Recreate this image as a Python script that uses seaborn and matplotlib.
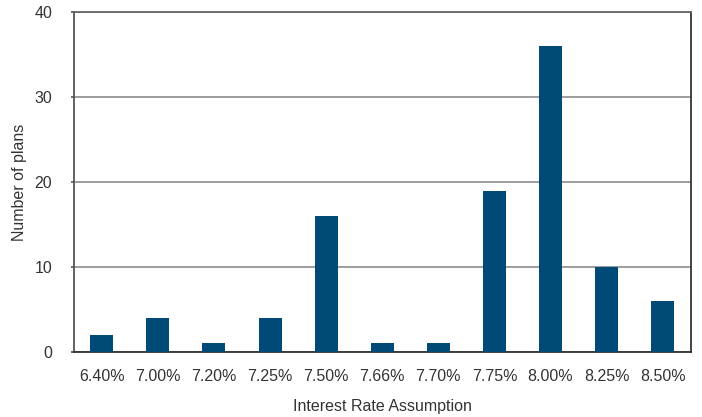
import matplotlib
matplotlib.use("Agg")
import matplotlib.pyplot as plt
import seaborn as sns
import pandas as pd

rates = ["6.40%", "7.00%", "7.20%", "7.25%", "7.50%", "7.66%", "7.70%",
         "7.75%", "8.00%", "8.25%", "8.50%"]
plans = [2, 4, 1, 4, 16, 1, 1, 19, 36, 10, 6]

df = pd.DataFrame({"rate": rates, "plans": plans})

sns.set_theme(style="white")
plt.rcParams["font.family"] = ["Liberation Sans", "DejaVu Sans"]

fig = plt.figure(figsize=(7.02, 4.17), dpi=100)
ax = fig.add_axes([0.105, 0.156, 0.879, 0.815])

sns.barplot(data=df, x="rate", y="plans", color="#004a78", width=0.41,
            saturation=1, linewidth=0, ax=ax, zorder=3)

ax.set_ylim(0, 40)
ax.set_yticks([0, 10, 20, 30, 40])
ax.set_xlim(-0.5, len(rates) - 0.5)
ax.yaxis.grid(True, color="#8c8c8c", linewidth=1.2, zorder=0)
ax.set_axisbelow(True)

for side in ["left", "bottom", "right"]:
    ax.spines[side].set_visible(True)
    ax.spines[side].set_linewidth(1.3)
ax.spines["left"].set_color("#555555")
ax.spines["bottom"].set_color("#333333")
ax.spines["right"].set_color("#333333")
ax.spines["top"].set_color("#666666")
ax.spines["top"].set_linewidth(1.3)

ax.tick_params(axis="y", which="both", left=True, length=2.5, width=1.2,
               color="#555555", labelsize=11.5, labelcolor="#333333", pad=13)
ax.tick_params(axis="x", bottom=False, labelsize=11.5, labelcolor="#333333", pad=6)

ax.set_xlabel("Interest Rate Assumption", fontsize=11.5, color="#333333", labelpad=11)
ax.set_ylabel("Number of plans", fontsize=11.5, color="#333333", labelpad=5)

fig.savefig("out.png", dpi=100)
